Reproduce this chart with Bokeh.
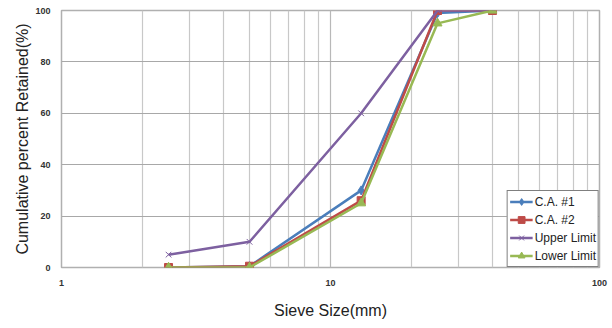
from bokeh.plotting import figure
from bokeh.models import Range1d, FixedTicker, Legend, LegendItem
from bokeh.embed import file_html
from bokeh.resources import INLINE

# Sieve sizes (mm) and cumulative percent retained for each curve
sieve_mm = [2.5, 5, 13, 25, 40]
ca1 = [0, 0.5, 30, 99, 100]
ca2 = [0, 0.5, 26, 100, 100]
upper = [5, 10, 60, 100, 100]
lower = [0, 0, 25, 95, 100]

x_ticks = [1, 10, 100]
x_minor = [2, 3, 4, 5, 6, 7, 8, 9, 20, 30, 40, 50, 60, 70, 80, 90]
y_ticks = [0, 20, 40, 60, 80, 100]

p = figure(width=612, height=328, x_axis_type="log",
           x_range=Range1d(1, 100), y_range=Range1d(0, 100),
           output_backend="svg", toolbar_location=None,
           min_border_left=61, min_border_right=13,
           min_border_top=10, min_border_bottom=61)
p.background_fill_color = "white"
p.border_fill_color = "white"
p.outline_line_color = "#b0b0b0"
p.outline_line_width = 1.5

p.xaxis.ticker = FixedTicker(ticks=x_ticks, minor_ticks=x_minor)
p.yaxis.ticker = FixedTicker(ticks=y_ticks)
p.xaxis.major_label_overrides = {1: "1", 10: "10", 100: "100"}

for ax in (p.xaxis[0], p.yaxis[0]):
    ax.axis_line_color = None
    ax.major_tick_line_color = None
    ax.minor_tick_line_color = None
    ax.major_tick_out = 0
    ax.minor_tick_out = 0
    ax.major_label_text_font = "Liberation Sans"
    ax.major_label_text_font_size = "9px"
    ax.major_label_text_font_style = "bold"
    ax.major_label_text_color = "#333333"
    ax.axis_label_text_font = "Liberation Sans"
    ax.axis_label_text_font_style = "normal"
    ax.axis_label_text_color = "#222222"

p.xaxis.major_label_standoff = 12
p.yaxis.major_label_standoff = 11
p.xaxis.axis_label = "Sieve Size(mm)"
p.xaxis.axis_label_text_font_size = "16px"
p.xaxis.axis_label_standoff = 13
p.yaxis.axis_label = "Cumulative percent Retained(%)"
p.yaxis.axis_label_text_font_size = "16px"
p.yaxis.axis_label_standoff = 1

p.xgrid.grid_line_color = "#b8b8b8"
p.xgrid.minor_grid_line_color = "#c8c8c8"
p.ygrid.grid_line_color = "#a8a8a8"
p.xgrid.grid_line_width = 1.2
p.xgrid.minor_grid_line_width = 1.2
p.ygrid.grid_line_width = 1.2

series = [
    ("C.A. #1", ca1, "#4a7ebb", "diamond", 9),
    ("C.A. #2", ca2, "#be4b48", "square", 8),
    ("Upper Limit", upper, "#7d60a0", "x", 8),
    ("Lower Limit", lower, "#98b954", "triangle", 9),
]

items = []
for label, ys, color, marker, size in series:
    ln = p.line(sieve_mm, ys, line_color=color, line_width=2.5)
    mk = p.scatter(sieve_mm, ys, marker=marker, size=size,
                   fill_color=color, line_color=color, line_width=1)
    items.append(LegendItem(label=label, renderers=[ln, mk]))

legend = Legend(items=items, location="bottom_right")
legend.border_line_color = "black"
legend.border_line_width = 1
legend.background_fill_color = "white"
legend.background_fill_alpha = 1
legend.label_text_font = "Liberation Sans"
legend.label_text_font_size = "12px"
legend.label_text_color = "#222222"
legend.glyph_width = 23
legend.glyph_height = 17
legend.label_height = 17
legend.label_standoff = 2
legend.spacing = 1
legend.padding = 2
legend.margin = 0
p.add_layout(legend)

open("out.html", "w").write(file_html(p, INLINE))
